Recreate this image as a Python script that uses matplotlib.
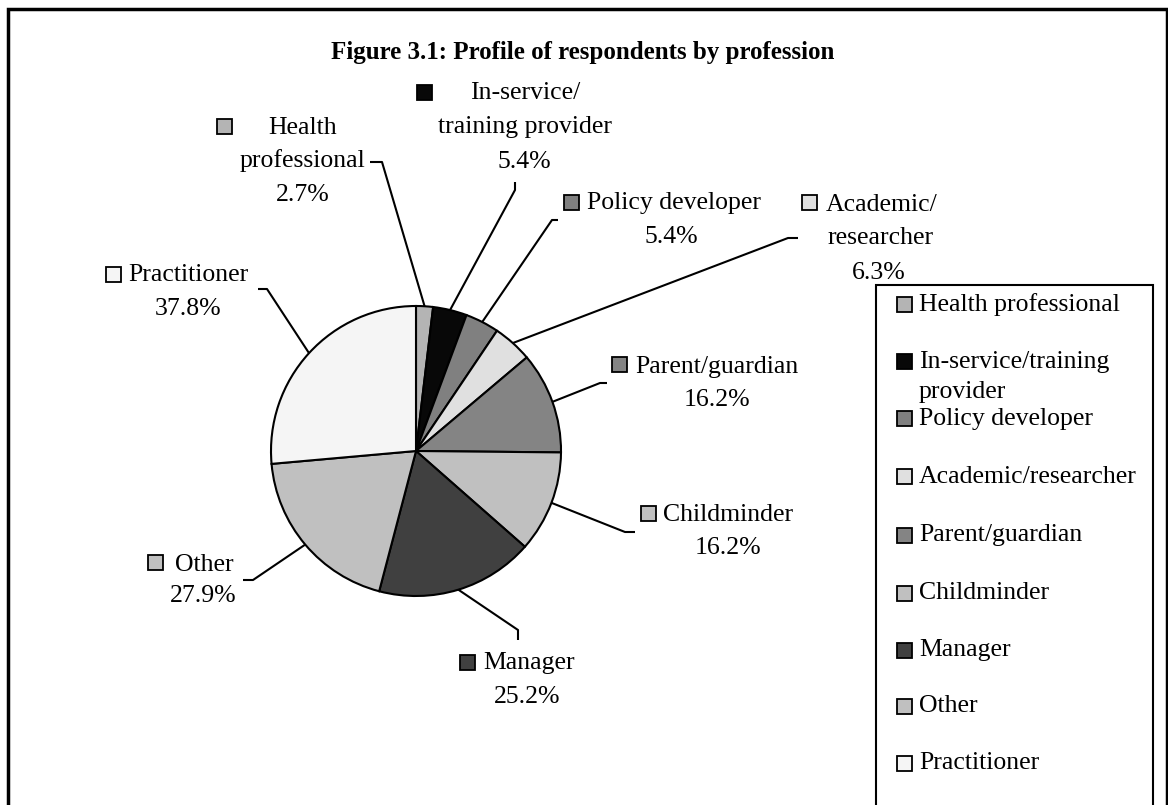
import matplotlib
matplotlib.use("Agg")
import matplotlib.pyplot as plt
from matplotlib.patches import Rectangle
import numpy as np

# ---- data ----
categories = ["Health professional", "In-service/training provider", "Policy developer",
              "Academic/researcher", "Parent/guardian", "Childminder", "Manager",
              "Other", "Practitioner"]
values = [2.7, 5.4, 5.4, 6.3, 16.2, 16.2, 25.2, 27.9, 37.8]
label_names = ["Health\nprofessional", "In-service/\ntraining provider", "Policy developer",
               "Academic/\nresearcher", "Parent/guardian", "Childminder", "Manager",
               "Other", "Practitioner"]
legend_names = ["Health professional", "In-service/training\nprovider", "Policy developer",
                "Academic/researcher", "Parent/guardian", "Childminder", "Manager",
                "Other", "Practitioner"]
colors = ['#b4b4b4', '#080808', '#808080', '#e0e0e0', '#848484', '#c0c0c0',
          '#404040', '#c0c0c0', '#f5f5f5']
title = "Figure 3.1: Profile of respondents by profession"

W, H = 1168, 805
plt.rcParams['font.family'] = ['Liberation Serif', 'DejaVu Serif']
FS = 18.5

fig = plt.figure(figsize=(W / 100, H / 100), dpi=100)
ax = fig.add_axes([0, 0, 1, 1])


def Y(y):
    return H - y


cx, cy, R = 416, 451, 145
wedges, _ = ax.pie(values, colors=colors, startangle=90, counterclock=False,
                   center=(cx, Y(cy)), radius=R,
                   wedgeprops=dict(edgecolor='black', linewidth=1.5))
ax.set_xlim(0, W)
ax.set_ylim(0, H)
ax.set_aspect('auto')
ax.axis('off')

# outer frame
ax.add_patch(Rectangle((8, Y(830)), 1159, 830 - 9, fill=False, edgecolor='black',
                       linewidth=2.5, zorder=5))

ax.text(583, Y(52), title, ha='center', va='center', fontsize=18, fontweight='bold')

# ---- data labels layout (pixel positions) ----
layouts = [
    dict(marker=(224, 127), lines_x=[303, 303, 303], lines_y=[128, 161, 195], ha='center',
         elbow=(382, 162), end=(370, 162)),
    dict(marker=(424, 93), lines_x=[525, 525, 524], lines_y=[93, 127, 162], ha='center',
         elbow=(515, 190), end=(515, 182)),
    dict(marker=(571, 203), lines_x=[587, 671], lines_y=[203, 237], ha='left',
         elbow=(552, 220), end=(558, 220)),
    dict(marker=(809, 203), lines_x=[882, 881, 879], lines_y=[205, 238, 273], ha='center',
         elbow=(788, 238), end=(798, 238)),
    dict(marker=(619, 365), lines_x=[635, 717], lines_y=[367, 400], ha='left',
         elbow=(600, 383), end=(607, 383)),
    dict(marker=(648, 513), lines_x=[663, 728], lines_y=[515, 548], ha='left',
         elbow=(625, 532), end=(635, 532)),
    dict(marker=(467, 662), lines_x=[483, 527], lines_y=[663, 697], ha='left',
         elbow=(518, 630), end=(518, 640)),
    dict(marker=(155, 562), lines_x=[175, 203], lines_y=[565, 596], ha='left',
         elbow=(253, 580), end=(243, 580)),
    dict(marker=(113, 275), lines_x=[128, 188], lines_y=[275, 309], ha='left',
         elbow=(267, 289), end=(258, 289)),
]

MS = 15
for w, name, val, col, lay in zip(wedges, label_names, values, colors, layouts):
    lines = name.split("\n") + [f"{val:.1f}%"]
    for i, (t, x, y) in enumerate(zip(lines, lay['lines_x'], lay['lines_y'])):
        ha = lay['ha'] if i == 0 else 'center'
        ax.text(x, Y(y), t, ha=ha, va='center', fontsize=FS)
    mx, my = lay['marker']
    ax.add_patch(Rectangle((mx - MS / 2, Y(my) - MS / 2), MS, MS, facecolor=col,
                           edgecolor='black', linewidth=1.3, zorder=4))
    th = np.deg2rad((w.theta1 + w.theta2) / 2)
    px, py = cx + R * np.cos(th), Y(cy) + R * np.sin(th)
    ex, ey = lay['elbow']
    fx, fy = lay['end']
    ax.plot([px, ex, fx], [py, Y(ey), Y(fy)], color='black', linewidth=1.5,
            solid_capstyle='butt', zorder=3)

# ---- legend box ----
ax.add_patch(Rectangle((876, Y(830)), 1153 - 876, 830 - 285, fill=False,
                       edgecolor='black', linewidth=1.5, zorder=5))
leg_y = [305, 362, 419, 477, 535, 593, 650, 706, 763]
for name, col, y in zip(legend_names, colors, leg_y):
    ax.add_patch(Rectangle((904 - MS / 2, Y(y) - MS / 2), MS, MS, facecolor=col,
                           edgecolor='black', linewidth=1.3, zorder=4))
    for j, part in enumerate(name.split("\n")):
        ax.text(919, Y(y + 30 * j), part, ha='left', va='center', fontsize=FS)

fig.savefig("out.png", dpi=100)
